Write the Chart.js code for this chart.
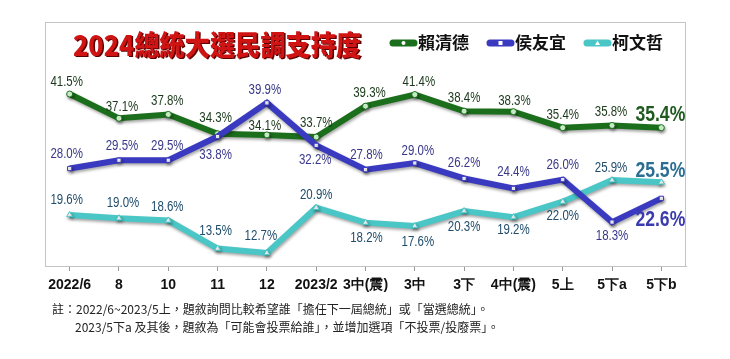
<!DOCTYPE html>
<html><head><meta charset="utf-8">
<script src="https://cdn.jsdelivr.net/npm/chart.js@4.4.1/dist/chart.umd.min.js"></script>
<style>html,body{margin:0;padding:0;background:#fff;}#wrap{position:relative;width:730px;height:359px;}</style>
</head><body><div id="wrap"><canvas id="c" width="730" height="359"></canvas></div>
<script>
// ---- data ----
const categories = ['2022/6','8','10','11','12','2023/2','3中(震)','3中','3下','4中(震)','5上','5下a','5下b'];
const seriesNames = ['賴清德','侯友宜','柯文哲'];
const laiValues = [41.5,37.1,37.8,34.3,34.1,33.7,39.3,41.4,38.4,38.3,35.4,35.8,35.4];
const houValues = [28.0,29.5,29.5,33.8,39.9,32.2,27.8,29.0,26.2,24.4,26.0,18.3,22.6];
const koValues  = [19.6,19.0,18.6,13.5,12.7,20.9,18.2,17.6,20.3,19.2,22.0,25.9,25.5];
const titleText = '2024總統大選民調支持度';
const noteLines = ['註：2022/6~2023/5上，題敘詢問比較希望誰「擔任下一屆總統」或「當選總統」。',
                   '2023/5下a 及其後，題敘為「可能會投票給誰」，並增加選項「不投票/投廢票」。'];

// ---- styles ----
const lineColors  = ['#1b6e1b','#3a3ac0','#4ac6c6'];
const labelColors = ['#1a381a','#38388a','#1f4c6a'];
const lastLabelColors = ['#1f5a1f','#3b3bb0','#2a6e92'];
const pointStyles = ['circle','rect','triangle'];
const pointFills  = ['#d8ffd8','#ffffff','#ffffff'];
const labelOffsets = [
  [[-3,-12],[3,-11],[-1,-13],[-2,-16],[-2,-9],[0,-14],[4,-13],[4,-12],[0,-13],[1,-11],[0,-13],[-1,-13],[-1,-13]],
  [[-3,-14],[3,-14],[-1,-14],[-2,19],[-2,-13],[-1,15],[1,-15],[3,-12],[0,-15],[0,-16],[0,-14],[0,14],[-1,22]],
  [[-3,-15],[4,-15],[-1,-13],[-2,-17],[-6,-17],[0,-13],[1,15],[3,16],[0,16],[0,13],[0,14],[-1,-12],[-1,-11]]
];
const sans = "'Liberation Sans',Arial,sans-serif";
const cjk = "'Noto Sans CJK TC','Noto Sans CJK SC',sans-serif";

function drawCondensed(c, text, x, y, font, sx){
  c.save(); c.font = font; c.translate(x,y); c.scale(sx,1);
  c.fillText(text,0,0); c.restore();
}

const seriesValues = [laiValues, houValues, koValues];
const datasets = seriesNames.map((name,i)=>({
  label: name,
  data: seriesValues[i],
  borderColor: lineColors[i],
  backgroundColor: lineColors[i],
  borderWidth: 6,
  tension: 0,
  pointStyle: pointStyles[i],
  pointRadius: i===2 ? 3.5 : 3,
  pointBackgroundColor: pointFills[i],
  pointBorderColor: lineColors[i],
  pointBorderWidth: 1,
  order: [2,0,1][i]
}));

const framePlugin = {
  id:'frame',
  beforeDraw(chart){
    const c = chart.ctx; c.save(); c.fillStyle='#fff'; c.fillRect(0,0,chart.width,chart.height); c.restore();
  },
  beforeDatasetsDraw(chart){
    const a = chart.chartArea, c = chart.ctx;
    c.save(); c.strokeStyle='#c4c4c4'; c.lineWidth=1;
    c.strokeRect(a.left+0.5, a.top+0.5, a.right-a.left-1, a.bottom-a.top);
    c.restore();
  }
};
const shadowPlugin = {
  id:'shadow',
  beforeDatasetDraw(chart){
    const c = chart.ctx; c.save();
    c.shadowColor='rgba(0,0,0,0.35)'; c.shadowBlur=3; c.shadowOffsetX=1; c.shadowOffsetY=2;
  },
  afterDatasetDraw(chart){ chart.ctx.restore(); }
};
const labelPlugin = {
  id:'vlabels',
  afterDatasetsDraw(chart){
    const c = chart.ctx;
    chart.data.datasets.forEach((ds,i)=>{
      const meta = chart.getDatasetMeta(i);
      meta.data.forEach((pt,j)=>{
        const last = j===ds.data.length-1;
        const off = labelOffsets[i][j];
        c.save();
        c.fillStyle = last ? lastLabelColors[i] : labelColors[i];
        c.textAlign='center'; c.textBaseline='middle';
        drawCondensed(c, ds.data[j].toFixed(1)+'%', pt.x+off[0], pt.y+off[1],
          last ? 'bold 22px '+sans : '14px '+sans, last ? 0.8 : 0.82);
        c.restore();
      });
    });
  }
};
const headerPlugin = {
  id:'header',
  afterDraw(chart){
    const c = chart.ctx;
    c.save();
    c.textBaseline='middle'; c.textAlign='left';
    const tf = "900 28px " + cjk;
    c.fillStyle='#5a0000'; drawCondensed(c, titleText, 74.5, 46.5, tf, 0.9);
    c.fillStyle='#d01414'; drawCondensed(c, titleText, 73, 45, tf, 0.9);
    // legend
    let x = 390; const y = 43;
    c.font = "bold 17px " + cjk;
    chart.data.datasets.forEach((ds,i)=>{
      c.strokeStyle = lineColors[i]; c.lineWidth = 7; c.lineCap='round';
      c.beginPath(); c.moveTo(x+3,y); c.lineTo(x+24,y); c.stroke();
      c.fillStyle='#fff';
      const mx = x+13.5;
      if (i===0){ c.beginPath(); c.arc(mx,y,2,0,Math.PI*2); c.fill(); }
      else if (i===1){ c.fillRect(mx-2,y-2,4,4); }
      else { c.beginPath(); c.moveTo(mx,y-2.5); c.lineTo(mx+2.5,y+2); c.lineTo(mx-2.5,y+2); c.closePath(); c.fill(); }
      c.fillStyle='#111'; c.textAlign='left'; c.textBaseline='middle';
      c.fillText(ds.label, x+28, y);
      x += 28 + c.measureText(ds.label).width + 18;
    });
    // notes
    c.font = "12px " + cjk; c.fillStyle='#222';
    c.fillText(noteLines[0], 52, 309);
    c.fillText(noteLines[1], 75, 327);
    c.restore();
  }
};

new Chart(document.getElementById('c'), {
  type:'line',
  data:{ labels: categories, datasets },
  options:{
    responsive:false, animation:false, devicePixelRatio:1,
    layout:{ padding:{ left:45, right:44, top:22, bottom:65 } },
    plugins:{ legend:{display:false}, tooltip:{enabled:false}, title:{display:false} },
    scales:{
      x:{
        offset:true,
        grid:{ display:true, drawOnChartArea:false, drawTicks:true, tickLength:5, offset:false, color:'#999' },
        border:{ display:true, color:'#bdbdbd' },
        ticks:{ color:'#111', font:{ family:sans, size:14, weight:'bold' }, padding:6, maxRotation:0, autoSkip:false },
        afterFit(s){ s.height = 28; }
      },
      y:{ display:false, min:10.345, max:54.55 }
    }
  },
  plugins:[framePlugin, shadowPlugin, labelPlugin, headerPlugin]
});
</script></body></html>
